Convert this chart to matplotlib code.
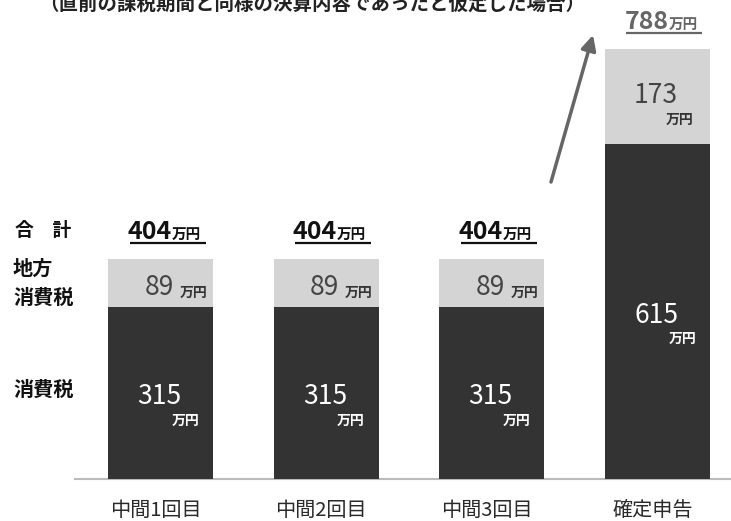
import matplotlib.pyplot as plt
import numpy as np

plt.rcParams['font.family'] = ['Noto Sans CJK JP', 'DejaVu Sans']

# data
categories = ['中間1回目', '中間2回目', '中間3回目', '確定申告']
national_tax = [315, 315, 315, 615]   # 消費税 (万円)
local_tax = [89, 89, 89, 173]         # 地方消費税 (万円)
totals = [404, 404, 404, 788]
title = '（直前の課税期間と同様の決算内容であったと仮定した場合）'

dark = '#333333'
light = '#d4d4d4'

W, H = 731, 521
xlim = (-0.969, 3.444)
ylim = (-76, 878)
px_x = W / (xlim[1] - xlim[0])   # pixels per x unit
px_y = H / (ylim[1] - ylim[0])   # pixels per y unit

fig = plt.figure(figsize=(W / 100, H / 100), dpi=100)
ax = fig.add_axes([0, 0, 1, 1])
ax.set_xlim(*xlim)
ax.set_ylim(*ylim)
ax.axis('off')

x = np.arange(len(categories))
ax.bar(x, national_tax, width=0.634, color=dark, zorder=2)
ax.bar(x, local_tax, width=0.634, bottom=national_tax, color=light, zorder=2)

# baseline
ax.axhline(0, xmin=75 / W, xmax=1, color='#bbbbbb', lw=1.5, zorder=1)

for i in range(len(categories)):
    big = i == len(categories) - 1
    top = national_tax[i] + local_tax[i]

    # total label, underlined
    tcol = '#666666' if big else '#111111'
    ax.annotate(str(totals[i]), (x[i], top), xytext=(11, 20), textcoords='offset pixels',
                ha='right', va='baseline', fontsize=18, fontweight='bold', color=tcol)
    ax.annotate('万円', (x[i], top), xytext=(11, 20), textcoords='offset pixels',
                ha='left', va='baseline', fontsize=10.5, fontweight='bold', color=tcol)
    uy = top + 16 / px_y
    ax.plot([x[i] - 31 / px_x, x[i] + 45 / px_x], [uy, uy], color=tcol, lw=1.6,
            solid_capstyle='butt')

    # local tax label
    mid = national_tax[i] + local_tax[i] / 2
    if big:
        ax.annotate(str(local_tax[i]), (x[i], mid), xytext=(20, -7), textcoords='offset pixels',
                    ha='right', va='baseline', fontsize=19, color='#444444')
        ax.annotate('万円', (x[i], mid), xytext=(8, -28), textcoords='offset pixels',
                    ha='left', va='baseline', fontsize=10, fontweight='bold', color='#333333')
    else:
        ax.annotate(str(local_tax[i]), (x[i], mid), xytext=(13, -12), textcoords='offset pixels',
                    ha='right', va='baseline', fontsize=19, color='#444444')
        ax.annotate('万円', (x[i], mid), xytext=(19, -14), textcoords='offset pixels',
                    ha='left', va='baseline', fontsize=10, fontweight='bold', color='#333333')

    # national tax label
    mid = national_tax[i] / 2
    ax.annotate(str(national_tax[i]), (x[i], mid), xytext=(21, -11), textcoords='offset pixels',
                ha='right', va='baseline', fontsize=19, color='white')
    ax.annotate('万円', (x[i], mid), xytext=(11, -31), textcoords='offset pixels',
                ha='left', va='baseline', fontsize=10, fontweight='bold', color='white')

    # category label
    ax.annotate(categories[i], (x[i], 0), xytext=(-5, -31), textcoords='offset pixels',
                ha='center', va='center', fontsize=14.5, color='#2a2a2a')

# row labels on the left
fig.text(15 / W, 1 - 230 / H, '合　計', ha='left', va='center', fontsize=13.5, fontweight='bold', color='#111111')
fig.text(13 / W, 1 - 268 / H, '地方', ha='left', va='center', fontsize=14.5, fontweight='bold', color='#111111')
fig.text(13 / W, 1 - 297 / H, '消費税', ha='left', va='center', fontsize=14.5, fontweight='bold', color='#111111')
fig.text(13 / W, 1 - 389 / H, '消費税', ha='left', va='center', fontsize=14.5, fontweight='bold', color='#111111')

# growth arrow
ax.annotate('', xy=(593 / W, 1 - 35 / H), xytext=(551 / W, 1 - 182 / H),
            xycoords='axes fraction', textcoords='axes fraction',
            arrowprops=dict(arrowstyle='-|>,head_length=0.9,head_width=0.45',
                            color='#666666', lw=2.5, shrinkA=0, shrinkB=0))

# title (top cut off as in the original)
fig.text(312 / W, 1 - 4 / H, title, ha='center', va='center', fontsize=14, fontweight='bold', color='#222222')

fig.savefig('out.png', dpi=100)
